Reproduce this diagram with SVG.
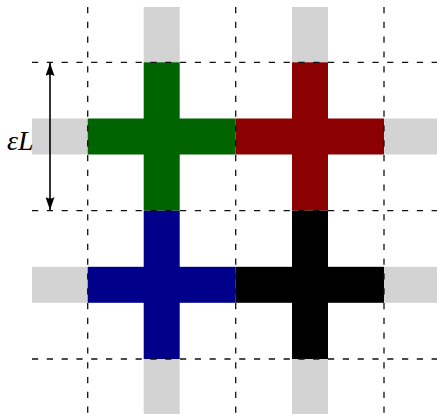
<svg xmlns="http://www.w3.org/2000/svg" width="437" height="414" viewBox="0 0 437 414">
<style>
.gray{fill:#d3d3d3}
.grid{stroke:#111;stroke-width:1.3;stroke-dasharray:6.2 8.6;fill:none}
.lbl{font-family:"Liberation Serif","DejaVu Serif",serif;font-style:italic;font-size:28px;fill:#000}
</style>
<defs>
<marker id="ah" viewBox="0 0 13 9" refX="13" refY="4.5" markerWidth="13" markerHeight="9" markerUnits="userSpaceOnUse" orient="auto-start-reverse">
<path d="M0,0 L13,4.5 L0,9 Q3,4.5 0,0 z" fill="#000"/>
</marker>
</defs>
<rect width="437" height="414" fill="#fff"/>
<g id="periodic-images">
<rect class="gray" x="143.7" y="7" width="36" height="55.3"/>
<rect class="gray" x="292" y="7" width="36" height="55.3"/>
<rect class="gray" x="143.7" y="359" width="36" height="55"/>
<rect class="gray" x="292" y="359" width="36" height="55"/>
<rect class="gray" x="32" y="118.5" width="55.7" height="36"/>
<rect class="gray" x="32" y="266.8" width="55.7" height="36"/>
<rect class="gray" x="384" y="118.5" width="53" height="36"/>
<rect class="gray" x="384" y="266.8" width="53" height="36"/>
</g>
<g id="cross-green" fill="#006400">
<rect x="143.7" y="62.3" width="36" height="148.4"/>
<rect x="87.7" y="118.5" width="148" height="36"/>
</g>
<g id="cross-red" fill="#8b0000">
<rect x="292" y="62.3" width="36" height="148.4"/>
<rect x="235.7" y="118.5" width="148.3" height="36"/>
</g>
<g id="cross-blue" fill="#00008b">
<rect x="143.7" y="210.7" width="36" height="148.3"/>
<rect x="87.7" y="266.8" width="148" height="36"/>
</g>
<g id="cross-black" fill="#000">
<rect x="292" y="210.7" width="36" height="148.3"/>
<rect x="235.7" y="266.8" width="148.3" height="36"/>
</g>
<g id="grid">
<line class="grid" x1="32" y1="62.3" x2="437" y2="62.3"/>
<line class="grid" x1="32" y1="210.7" x2="437" y2="210.7"/>
<line class="grid" x1="32" y1="359" x2="437" y2="359"/>
<line class="grid" x1="87.7" y1="7" x2="87.7" y2="414"/>
<line class="grid" x1="235.7" y1="7" x2="235.7" y2="414"/>
<line class="grid" x1="384" y1="7" x2="384" y2="414"/>
</g>
<g id="connectors">
<line x1="50" y1="63" x2="50" y2="210" stroke="#000" stroke-width="1.6" marker-start="url(#ah)" marker-end="url(#ah)"/>
</g>
<g id="label">
<text class="lbl" x="7" y="150">εL</text>
</g>
</svg>
